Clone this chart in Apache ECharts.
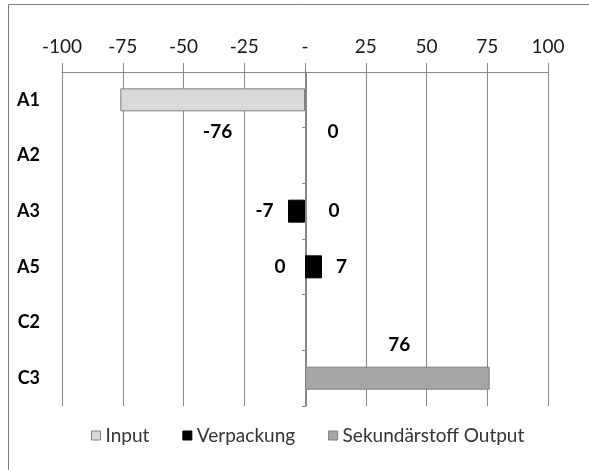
<!DOCTYPE html>
<html>
<head>
<meta charset="utf-8">
<script src="https://cdn.jsdelivr.net/npm/echarts@6/dist/echarts.min.js"></script>
<style>
html,body{margin:0;padding:0;background:#fff;}
#c{width:589px;height:470px;}
</style>
</head>
<body>
<div id="c"></div>
<script>
var categories = ['A1', 'A2', 'A3', 'A5', 'C2', 'C3'];
var inputValues = [-76, null, null, 0, null, null];
var verpackungValues = [0, null, -7, 7, null, null];
var outputValues = [null, null, 0, null, null, 76];
var xTicks = [-100, -75, -50, -25, 0, 25, 50, 75, 100];
var seriesNames = ['Input', 'Verpackung', 'Sekundärstoff Output'];

// label placement (style only)
var labelOffsets = {
  0: {0: [5, 32], 3: [-25, 0]},
  1: {0: [28, 32], 2: [-32, 0], 3: [28, 0]},
  2: {2: [29, 0], 5: [2, -33]}
};

var FONT = 'Lato';
var gridColor = '#888888';

var fills = ['#d9d9d9', '#000000', '#a6a6a6'];
var borders = ['#7f7f7f', '#000000', '#7f7f7f'];
var allVals = [inputValues, verpackungValues, outputValues];

function buildData(vals, si) {
  return vals.map(function (v, i) {
    if (v === null) return null;
    var off = labelOffsets[si][i];
    var item = {
      value: v,
      label: off ? {show: true, position: 'inside', offset: off} : {show: false}
    };
    if (v === 0) item.itemStyle = {borderWidth: 0, color: 'rgba(0,0,0,0)'};
    return item;
  });
}

var series = allVals.map(function (vals, si) {
  return {
    name: seriesNames[si],
    type: 'bar',
    yAxisIndex: 0,
    barWidth: 23,
    barGap: '-100%',
    data: buildData(vals, si),
    itemStyle: {color: fills[si], borderColor: borders[si], borderWidth: 1},
    label: {
      show: true,
      color: '#000',
      fontFamily: FONT,
      fontWeight: 'bold',
      fontSize: 19,
      formatter: function (p) { return String(p.value); }
    },
    emphasis: {disabled: true},
    animation: false
  };
});

var chart = echarts.init(document.getElementById('c'), null, {renderer: 'canvas'});
chart.setOption({
  animation: false,
  backgroundColor: '#fff',
  graphic: [{
    type: 'rect',
    shape: {x: 8.5, y: 4.5, width: 700, height: 700},
    style: {fill: 'none', stroke: '#7f7f7f', lineWidth: 1},
    silent: true,
    z: -1
  }],
  grid: {left: 62, right: 41, top: 72, bottom: 64, containLabel: false},
  xAxis: {
    type: 'value',
    position: 'top',
    min: -100,
    max: 100,
    interval: 25,
    axisLine: {show: true, onZero: false, lineStyle: {color: gridColor, width: 1}},
    axisTick: {show: true, length: 9, inside: false, lineStyle: {color: gridColor}},
    splitLine: {show: true, lineStyle: {color: gridColor, width: 1}},
    axisLabel: {
      margin: 16,
      color: '#1a1a1a',
      fontFamily: FONT,
      fontSize: 19,
      formatter: function (v) { return v === 0 ? '-' : String(v); },
      customValues: xTicks
    }
  },
  yAxis: [{
    type: 'category',
    data: categories,
    inverse: true,
    position: 'left',
    axisLine: {show: false},
    axisTick: {show: false},
    axisLabel: {
      margin: 22,
      color: '#000',
      fontFamily: FONT,
      fontWeight: 'bold',
      fontSize: 18
    }
  }, {
    type: 'category',
    data: categories,
    inverse: true,
    position: 'right',
    offset: -242,
    axisLine: {show: true, onZero: false, lineStyle: {color: gridColor}},
    axisTick: {show: true, inside: true, length: 4, lineStyle: {color: gridColor}},
    axisLabel: {show: false}
  }],
  legend: {
    bottom: 20,
    left: 86,
    itemWidth: 9,
    itemHeight: 9,
    itemGap: 33,
    icon: 'rect',
    textStyle: {fontFamily: FONT, fontSize: 19, color: '#333'},
    data: seriesNames.map(function (n, i) {
      return {name: n, itemStyle: {color: fills[i], borderColor: borders[i], borderWidth: 1}};
    })
  },
  series: series
});
</script>
</body>
</html>
